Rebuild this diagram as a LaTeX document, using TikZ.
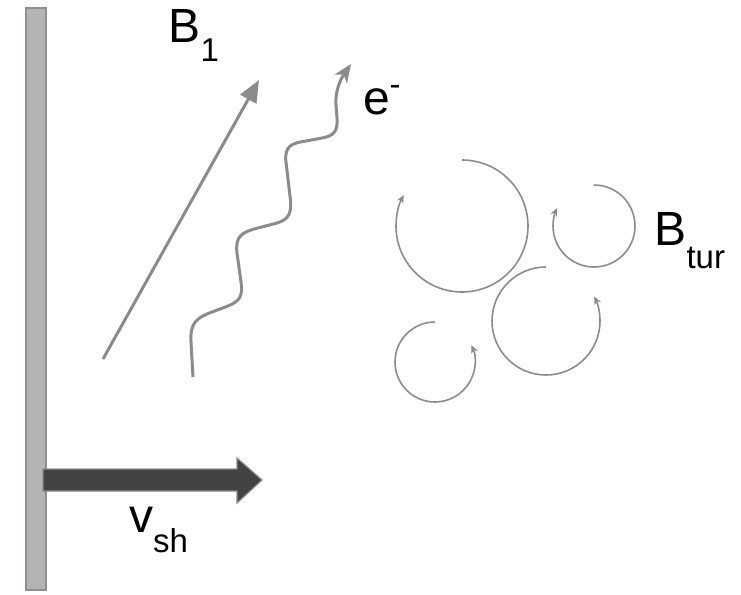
\documentclass[tikz,border=0pt]{standalone}
\usepackage{fontspec}
\setmainfont{Liberation Sans}
\usetikzlibrary{arrows.meta}
\definecolor{barfill}{HTML}{B3B5B2}
\definecolor{barline}{HTML}{8E908E}
\definecolor{darkarrow}{HTML}{434343}
\definecolor{linegray}{HTML}{8A8C8C}
\definecolor{circgray}{HTML}{8C8C8C}
\newcommand{\bigfont}{\fontsize{48}{48}\selectfont}
\newcommand{\subfont}{\fontsize{33}{33}\selectfont}
\begin{document}
\begin{tikzpicture}[x=1pt,y=-1pt,
  lbl/.style={anchor=base west,inner sep=0pt,outer sep=0pt,font=\bigfont},
  fieldline/.style={draw=linegray,line width=3pt},
  swirl/.style={draw=circgray,line width=1.6pt,-{Stealth[length=8pt,width=7pt,inset=2.5pt]}}]
\useasboundingbox (0,0) rectangle (741,594);
% shock wall
\path[fill=barfill,draw=barline,line width=1.2pt] (26,8) rectangle (46,590);
% shock velocity arrow
\path[fill=darkarrow,draw=linegray,line width=1.2pt]
  (43,469) -- (237,469) -- (237,458) -- (262,480) -- (237,503) -- (237,491) -- (43,491) -- cycle;
% B1 field line
\coordinate (b1s) at (103,359);
\coordinate (b1e) at (259,80);
\draw[fieldline,-{Triangle[length=22pt,width=18pt]}] (b1s) -- (b1e);
% electron path
\coordinate (es) at (193,377);
\coordinate (ee) at (351,64);
\draw[fieldline,-{Stealth[length=18pt,width=15pt,inset=5pt]}] (es) -- (191,342)
  .. controls (190,323) and (196,318) .. (212,312)
  -- (228,306) .. controls (240,301) and (243,296) .. (241,282)
  -- (237,253) .. controls (235,236) and (242,232) .. (258,228)
  -- (277,223) .. controls (290,219) and (292,212) .. (290,196)
  -- (286,162) .. controls (284,146) and (292,143) .. (306,141)
  -- (322,138) .. controls (334,136) and (338,131) .. (337,118)
  -- (336,105) .. controls (335,92) and (340,80) .. (ee);
% turbulent field loops
\draw[swirl] (462,160) arc[start angle=-90,end angle=208,radius=66];
\draw[swirl] (594,185) arc[start angle=-90,end angle=206,radius=41];
\draw[swirl] (546,267) arc[start angle=-90,end angle=-387,radius=54];
\draw[swirl] (435,322) arc[start angle=-90,end angle=-385,radius=40];
% labels
\node[lbl] (lb1) at (168.5,43) {B\raisebox{-19pt}{\subfont 1}};
\node[lbl] (le) at (363,114) {e\raisebox{19pt}{\subfont -}};
\node[lbl] (lv) at (129,532) {v\raisebox{-20pt}{\subfont sh}};
\node[lbl] (lbt) at (654.5,245) {B\raisebox{-23pt}{\subfont tur}};
\end{tikzpicture}
\end{document}
